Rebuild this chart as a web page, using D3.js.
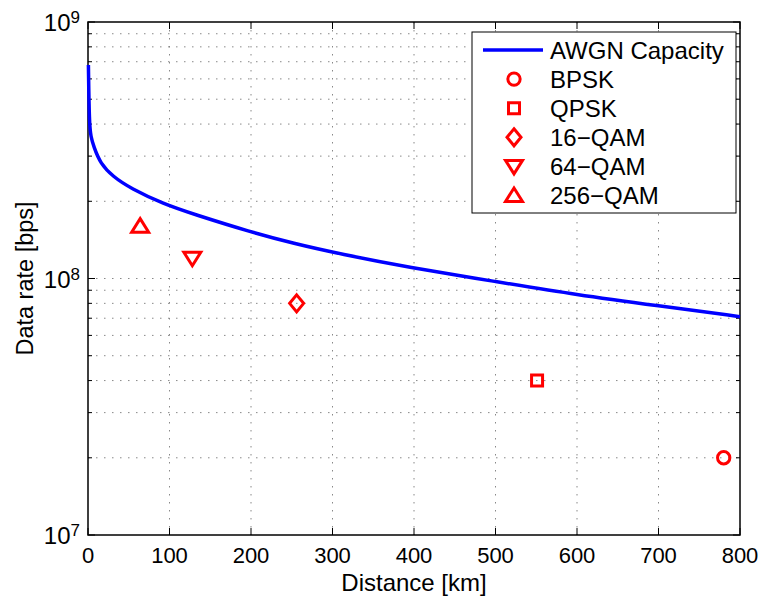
<!DOCTYPE html>
<html>
<head>
<meta charset="utf-8">
<script src="https://cdn.jsdelivr.net/npm/d3@7"></script>
<style>
  body { margin: 0; background: #fff; }
  text { font-family: "Liberation Sans", Arial, Helvetica, sans-serif; fill: #000; }
</style>
</head>
<body>
<svg id="chart" width="760" height="597"></svg>
<script>
// AWGN capacity curve
let awgnDist = [0.5, 1.6, 3.5, 7, 15, 31, 52, 93, 130, 199, 252, 310, 393, 500, 600, 700, 800];
let awgnRate = [6.8e8, 4.0e8, 3.57e8, 3.27e8, 2.81e8, 2.49e8, 2.25e8, 1.95e8, 1.78e8, 1.52e8, 1.37e8, 1.245e8, 1.106e8, 0.973e8, 0.863e8, 0.782e8, 0.71e8];

// modulation points
let modNames = ["BPSK", "QPSK", "16\u2212QAM", "64\u2212QAM", "256\u2212QAM"];
let modShapes = ["circle", "square", "diamond", "triDown", "triUp"];
let modDist = [780, 551, 256, 128, 64];
let modRate = [2e7, 4e7, 8e7, 1.2e8, 1.6e8];

let xTicks = [0, 100, 200, 300, 400, 500, 600, 700, 800];
let yDecades = [1e7, 1e8, 1e9];

let svg = d3.select("#chart"),
    margin = {top: 22, right: 20, bottom: 62, left: 88},
    width = 760 - margin.left - margin.right,
    height = 597 - margin.top - margin.bottom,
    g = svg.append("g").attr("transform", "translate(" + margin.left + "," + margin.top + ")");

let x = d3.scaleLinear().domain([0, 800]).range([0, width]);
let y = d3.scaleLog().domain([1e7, 1e9]).range([height, 0]);

const red = "#ff0000", blue = "#0000ff";

// marker paths centred on 0,0
const markerPath = (shape) => {
    if (shape === "circle") return d3.symbol().type(d3.symbolCircle).size(Math.PI * 38)();
    if (shape === "square") return "M-5.5,-5.5H5.5V5.5H-5.5Z";
    if (shape === "diamond") return "M0,-8.5L7,0L0,8.5L-7,0Z";
    if (shape === "triUp") return "M0,-7.5L8.5,6L-8.5,6Z";
    return "M0,7.5L8.5,-6L-8.5,-6Z";
};

// grid
let yMinor = y.ticks().filter(v => v > 1e7 && v < 1e9);
g.append("g").selectAll("line")
    .data(yMinor)
    .enter().append("line")
    .attr("x1", 0).attr("x2", width)
    .attr("y1", d => y(d)).attr("y2", d => y(d))
    .attr("stroke", "#888").attr("stroke-width", 1)
    .attr("stroke-dasharray", "1.5,6.5");

g.append("g").selectAll("line")
    .data(xTicks.slice(1, -1))
    .enter().append("line")
    .attr("x1", d => x(d)).attr("x2", d => x(d))
    .attr("y1", 0).attr("y2", height)
    .attr("stroke", "#888").attr("stroke-width", 1)
    .attr("stroke-dasharray", "1.5,6.5");

// ticks (inward, all four sides)
let allY = y.ticks();
[0, width].forEach((x0, side) => {
    let dir = side === 0 ? 1 : -1;
    g.append("g").selectAll("line")
        .data(allY)
        .enter().append("line")
        .attr("x1", x0)
        .attr("x2", d => x0 + dir * (yDecades.includes(d) ? 7 : 4))
        .attr("y1", d => y(d)).attr("y2", d => y(d))
        .attr("stroke", "#000").attr("stroke-width", 1);
});
[0, height].forEach((y0, side) => {
    let dir = side === 0 ? 1 : -1;
    g.append("g").selectAll("line")
        .data(xTicks)
        .enter().append("line")
        .attr("x1", d => x(d)).attr("x2", d => x(d))
        .attr("y1", y0).attr("y2", y0 + dir * 7)
        .attr("stroke", "#000").attr("stroke-width", 1);
});

// frame
g.append("rect")
    .attr("width", width).attr("height", height)
    .attr("fill", "none").attr("stroke", "#000").attr("stroke-width", 1.5);

// tick labels
g.append("g").selectAll("text")
    .data(xTicks)
    .enter().append("text")
    .attr("x", d => x(d))
    .attr("y", height + 28)
    .attr("text-anchor", "middle")
    .attr("font-size", 22)
    .text(d => d);

let yLab = g.append("g").selectAll("text")
    .data(yDecades)
    .enter().append("text")
    .attr("x", -8)
    .attr("y", d => y(d) + 9)
    .attr("text-anchor", "end")
    .attr("font-size", 24);
yLab.append("tspan").text("10");
yLab.append("tspan").attr("dy", -8).attr("font-size", 17).text(d => Math.round(Math.log10(d)));

// axis titles
svg.append("text")
    .attr("x", margin.left + width / 2)
    .attr("y", 591)
    .attr("text-anchor", "middle")
    .attr("font-size", 24)
    .text("Distance [km]");

svg.append("text")
    .attr("transform", "translate(33," + (margin.top + height / 2) + ") rotate(-90)")
    .attr("text-anchor", "middle")
    .attr("font-size", 23.5)
    .text("Data rate [bps]");

// capacity curve
let line = d3.line()
    .x((d, i) => x(awgnDist[i]))
    .y((d, i) => y(awgnRate[i]))
    .curve(d3.curveBasis);

g.append("path")
    .datum(awgnRate)
    .attr("d", line)
    .attr("fill", "none")
    .attr("stroke", blue)
    .attr("stroke-width", 3.5);

// modulation markers
g.append("g").selectAll("path")
    .data(modRate)
    .enter().append("path")
    .attr("transform", (d, i) => "translate(" + x(modDist[i]) + "," + y(d) + ")")
    .attr("d", (d, i) => markerPath(modShapes[i]))
    .attr("fill", "none")
    .attr("stroke", red)
    .attr("stroke-width", 3);

// legend
let legend = svg.append("g").attr("transform", "translate(472,32)");
legend.append("rect")
    .attr("width", 264).attr("height", 181)
    .attr("fill", "#fff").attr("stroke", "#000").attr("stroke-width", 1);

let rowY = i => 18 + i * 29.1;

legend.append("line")
    .attr("x1", 11).attr("x2", 71)
    .attr("y1", rowY(0)).attr("y2", rowY(0))
    .attr("stroke", blue).attr("stroke-width", 3.5);
legend.append("text")
    .attr("x", 78).attr("y", rowY(0) + 8.5)
    .attr("font-size", 24)
    .text("AWGN Capacity");

let items = legend.selectAll("g.item")
    .data(modNames)
    .enter().append("g")
    .attr("class", "item")
    .attr("transform", (d, i) => "translate(0," + rowY(i + 1) + ")");
items.append("path")
    .attr("transform", "translate(42,0)")
    .attr("d", (d, i) => markerPath(modShapes[i]))
    .attr("fill", "none")
    .attr("stroke", red)
    .attr("stroke-width", 3);
items.append("text")
    .attr("x", 78).attr("y", 8.5)
    .attr("font-size", 24)
    .text(d => d);
</script>
</body>
</html>
